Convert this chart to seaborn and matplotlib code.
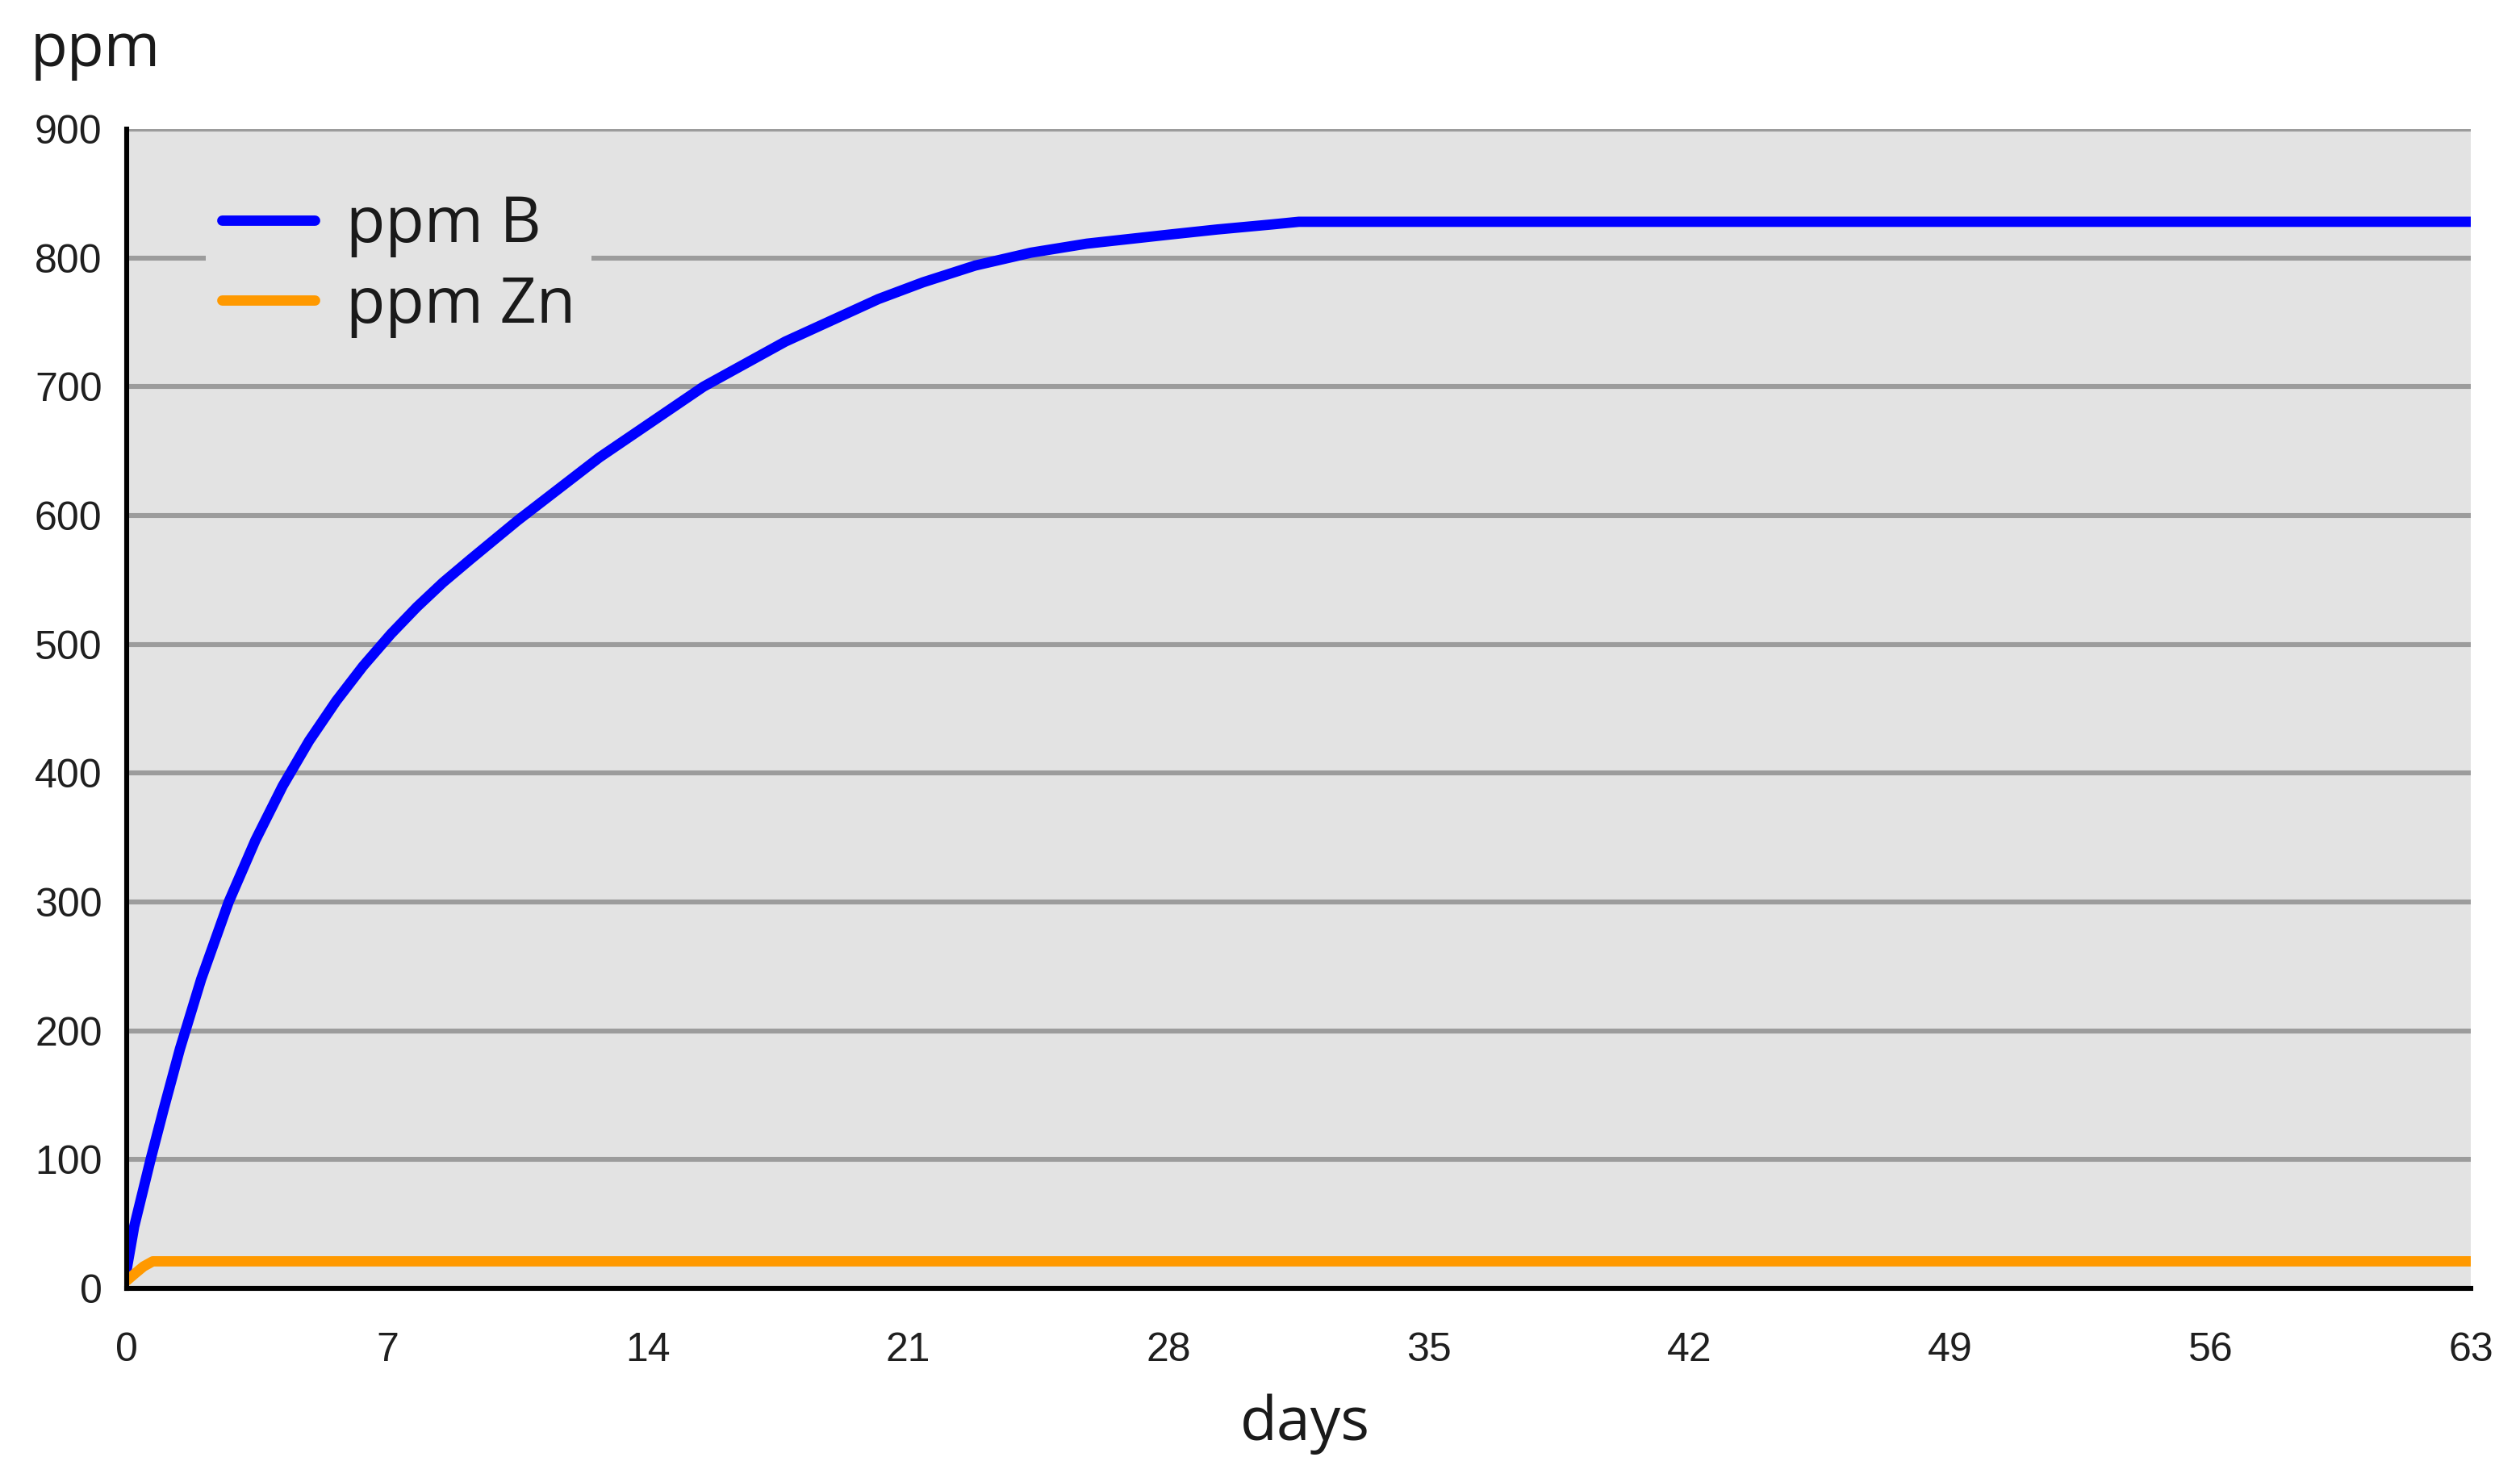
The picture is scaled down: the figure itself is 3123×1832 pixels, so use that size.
import matplotlib
matplotlib.use("Agg")
import matplotlib.pyplot as plt
import seaborn as sns
import pandas as pd

# ---- data ----
days_B = [0, 0.2, 0.64, 1.0, 1.43, 2.0, 2.74, 3.46, 4.19, 4.9, 5.63, 6.35, 7.1,
          7.8, 8.5, 9.24, 10.5, 12.7, 15.5, 17.7, 20.2, 21.4, 22.8, 24.3, 25.8,
          28.0, 29.3, 30.8, 31.5, 63]
ppm_B = [15, 48, 100, 140, 186, 240, 300, 348, 390, 425, 456, 483, 508,
         529, 548, 566, 596, 645, 700, 735, 768, 781, 794, 804, 811,
         818, 822, 826, 828, 828]

days_Zn = [0, 0.2, 0.45, 0.7, 63]
ppm_Zn = [6, 11, 17, 21, 21]

series_names = ["ppm B", "ppm Zn"]
series_colors = ["#0000FF", "#FF9900"]
x_ticks = list(range(0, 64, 7))
y_ticks = list(range(0, 901, 100))

df = pd.concat([
    pd.DataFrame({"days": days_B, "ppm": ppm_B, "series": series_names[0]}),
    pd.DataFrame({"days": days_Zn, "ppm": ppm_Zn, "series": series_names[1]}),
], ignore_index=True)

sns.set_style("white")
plt.rcParams["font.family"] = ["DejaVu Sans"]

fig = plt.figure(figsize=(15.615, 9.16), dpi=200)
ax = fig.add_axes([0.0503, 0.1283, 0.9302, 0.7844])
ax.set_facecolor("#E3E3E3")

sns.lineplot(data=df, x="days", y="ppm", hue="series", hue_order=series_names,
             palette=dict(zip(series_names, series_colors)), sort=False,
             estimator=None, linewidth=4.6, ax=ax, zorder=3)

ax.set_xlim(0, 63)
ax.set_ylim(0, 900)
ax.set_xticks(x_ticks)
ax.set_yticks(y_ticks)
ax.set_xticklabels([str(v) for v in x_ticks], family="Liberation Sans",
                   fontsize=18, color="#1f1f1f")
ax.set_yticklabels([str(v) for v in y_ticks], family="Liberation Sans",
                   fontsize=18, color="#1f1f1f")
ax.set_xlabel("")
ax.set_ylabel("")

ax.yaxis.grid(True, color="#9C9C9C", linewidth=2.2, zorder=1)
ax.xaxis.grid(False)
ax.set_axisbelow(True)

for side in ["top", "right"]:
    ax.spines[side].set_visible(False)
for side in ["left", "bottom"]:
    ax.spines[side].set_color("black")
    ax.spines[side].set_linewidth(2.2)
    ax.spines[side].set_zorder(4)

ax.tick_params(axis="y", direction="out", length=5, width=2.2, color="black", pad=6)
ax.tick_params(axis="x", direction="out", length=6.5, width=2.2, color="black", pad=13)

leg = ax.legend(loc="center left", bbox_to_anchor=(0.0337, 0.882), borderaxespad=0,
                frameon=True, facecolor="#E3E3E3", edgecolor="none", framealpha=1,
                handlelength=1.45, handletextpad=0.5, borderpad=0.25,
                labelspacing=0.26, prop={"family": "Open Sans", "size": 28.5})
for t in leg.get_texts():
    t.set_color("#1a1a1a")
for h in leg.get_lines():
    h.set_linewidth(4.6)

fig.text(0.012, 0.9552, "ppm", family="Open Sans", fontsize=27, color="#1a1a1a",
         ha="left", va="baseline")
fig.text(0.518, 0.0257, "days", family="Open Sans", fontsize=27, color="#1a1a1a",
         ha="center", va="baseline")

fig.savefig("out.png", dpi=200, facecolor="white")
